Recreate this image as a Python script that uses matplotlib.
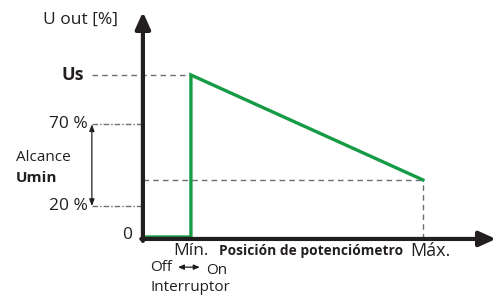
import matplotlib
matplotlib.use("Agg")
import matplotlib.pyplot as plt

plt.rcParams['font.family'] = ['Open Sans', 'DejaVu Sans']

# Data (x: potentiometer position 0=Mín .. 100=Máx ; y: U out in %)
curve_x = [-20.7, 0, 0, 100]
curve_y = [1.2, 1.2, 100, 36]
us_level = 100
umin_high = 70
umin_low = 20
end_level = 36
pos_min, pos_max = 0, 100
y_axis_x = -20.7

GREEN = '#169b45'
AXIS = '#231f20'
GRAY = '#6d6e70'
TEXT = '#231f20'

fig = plt.figure(figsize=(4.96, 2.98), dpi=100)
ax = fig.add_axes([0, 0, 1, 1])
ax.set_xlim(-82.3, 131.5)
ax.set_ylim(-36.0, 145.7)
ax.axis('off')

# guide lines
ax.plot([-42.7, pos_min], [us_level, us_level], color=GRAY, lw=1.0, ls=(0, (4, 3)))
ax.plot([y_axis_x, pos_max], [end_level, end_level], color=GRAY, lw=1.0, ls=(0, (4, 3)))
ax.plot([pos_max, pos_max], [0, end_level], color=GRAY, lw=1.0, ls=(0, (4, 3)))
ax.plot([-42.7, y_axis_x], [umin_high, umin_high], color=GRAY, lw=1.0, ls=(0, (4, 1.5, 1, 1.5)))
ax.plot([-42.7, y_axis_x], [umin_low, umin_low], color=GRAY, lw=1.0, ls=(0, (4, 1.5, 1, 1.5)))

# curve
ax.plot(curve_x, curve_y, color=GREEN, lw=2.4, solid_joinstyle='miter', zorder=3)

# axes arrows
ax.annotate('', xy=(131.5, 0), xytext=(y_axis_x - 0.7, 0),
            arrowprops=dict(arrowstyle='-|>,head_length=1.0,head_width=0.45', lw=3, color=AXIS,
                            shrinkA=0, shrinkB=0), zorder=4)
ax.annotate('', xy=(y_axis_x, 138.4), xytext=(y_axis_x, -1.2),
            arrowprops=dict(arrowstyle='-|>,head_length=1.0,head_width=0.45', lw=3, color=AXIS,
                            shrinkA=0, shrinkB=0), zorder=4)

# Umin range arrow
ax.annotate('', xy=(-42.7, umin_high), xytext=(-42.7, umin_low),
            arrowprops=dict(arrowstyle='<|-|>,head_length=0.4,head_width=0.15', lw=0.9, color=AXIS,
                            shrinkA=0, shrinkB=0))

# Off <-> On switch arrow
ax.annotate('', xy=(3.8, -17.2), xytext=(-5.6, -17.2),
            arrowprops=dict(arrowstyle='<|-|>,head_length=0.35,head_width=0.15', lw=0.9, color=AXIS,
                            shrinkA=0, shrinkB=0))

# texts
ax.text(-47.8, 133.5, 'U out [%]', ha='center', va='center', fontsize=12.5, color=TEXT)
ax.text(-46, us_level, 'Us', ha='right', va='center', fontsize=13, fontweight='bold', color=TEXT)
ax.text(-44.4, umin_high, '70 %', ha='right', va='center', fontsize=12.5, color=TEXT)
ax.text(-44.4, umin_low, '20 %', ha='right', va='center', fontsize=12.5, color=TEXT)
ax.text(-25.4, 2.5, '0', ha='right', va='center', fontsize=12.5, color=TEXT)
ax.text(-75.5, 49.4, 'Alcance', ha='left', va='center', fontsize=11, color=TEXT)
ax.text(-75.5, 37.2, 'Umin', ha='left', va='center', fontsize=11, fontweight='bold', color=TEXT)
ax.text(pos_min, -7.3, 'Mín.', ha='center', va='center', fontsize=12.5, color=TEXT)
ax.text(12, -7.3, 'Posición de potenciómetro', ha='left', va='center', fontsize=9.9,
        fontweight='bold', color=TEXT)
ax.text(94.4, -7.3, 'Máx.', ha='left', va='center', fontsize=13, color=TEXT)
ax.text(-12.9, -17.4, 'Off', ha='center', va='center', fontsize=11, color=TEXT)
ax.text(11.2, -19.4, 'On', ha='center', va='center', fontsize=11, color=TEXT)
ax.text(-0.4, -29.6, 'Interruptor', ha='center', va='center', fontsize=11, color=TEXT)

fig.savefig('out.png', dpi=100)
